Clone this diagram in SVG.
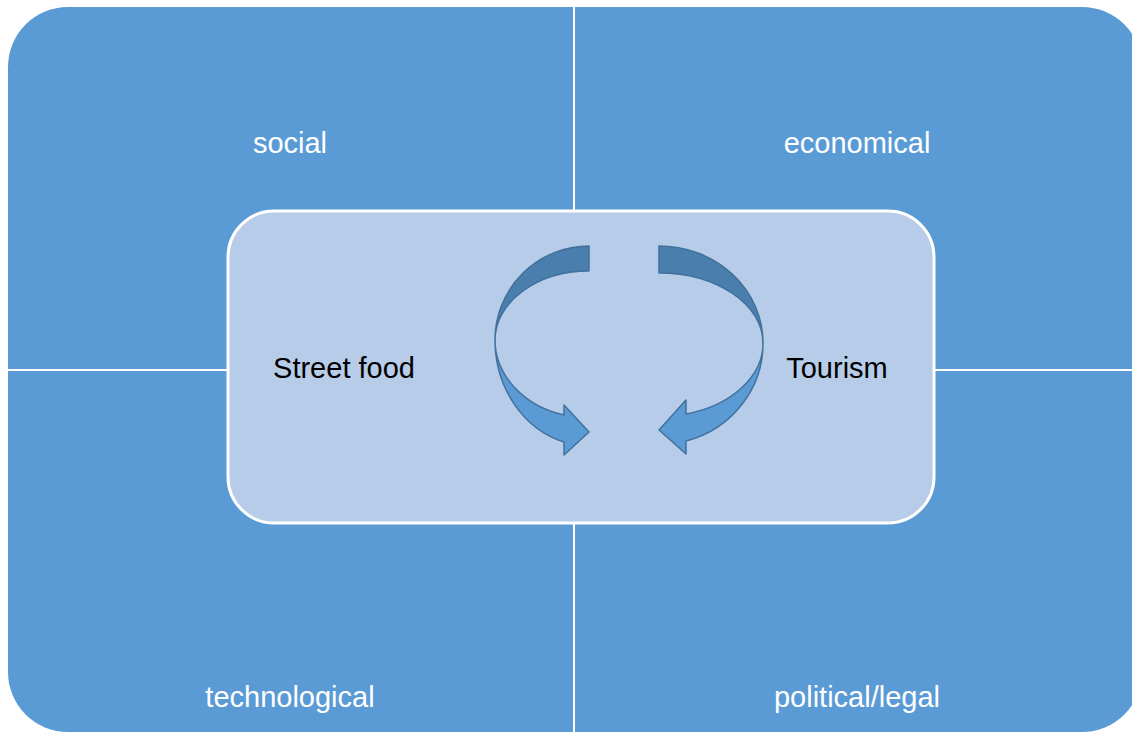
<svg xmlns="http://www.w3.org/2000/svg" width="1132" height="733" viewBox="0 0 1132 733">
  <style>
    .quad { fill: #5B9BD5; }
    .sep { stroke: #FFFFFF; stroke-width: 2; fill: none; }
    .lbl { font-family: "Liberation Sans", Arial, sans-serif; font-size: 29px; text-anchor: middle; }
    .white { fill: #FFFFFF; }
    .dark { fill: #000000; }
    .center { fill: #B7CCE8; stroke: #FFFFFF; stroke-width: 3; }
    .back { fill: #4A7EAD; stroke: #41719C; stroke-width: 1.5; stroke-linejoin: round; }
    .front { fill: #5B9BD5; stroke: #41719C; stroke-width: 1.5; stroke-linejoin: round; }
  </style>

  <!-- four quadrants forming one rounded block -->
  <g id="quadrants">
    <g id="social">
      <path class="quad" d="M8,370 L8,67 A60,60 0 0 1 68,7 L574,7 L574,370 Z"/>
      <text class="lbl white" x="290" y="153">social</text>
    </g>
    <g id="economical">
      <path class="quad" d="M574,7 L1082,7 A60,60 0 0 1 1142,67 L1142,370 L574,370 Z"/>
      <text class="lbl white" x="857" y="153">economical</text>
    </g>
    <g id="technological">
      <path class="quad" d="M8,370 L574,370 L574,732 L68,732 A60,60 0 0 1 8,672 Z"/>
      <text class="lbl white" x="290" y="707">technological</text>
    </g>
    <g id="political">
      <path class="quad" d="M574,370 L1142,370 L1142,672 A60,60 0 0 1 1082,732 L574,732 Z"/>
      <text class="lbl white" x="857" y="707">political/legal</text>
    </g>
    <line class="sep" x1="574" y1="7" x2="574" y2="732"/>
    <line class="sep" x1="8" y1="370" x2="1142" y2="370"/>
  </g>

  <!-- central panel -->
  <g id="core">
    <rect class="center" x="228" y="211" width="706" height="312" rx="46" ry="46"/>
  </g>

  <g id="street-food">
    <text class="lbl dark" x="344" y="378">Street food</text>
  </g>
  <g id="tourism">
    <text class="lbl dark" x="837" y="378">Tourism</text>
  </g>

  <!-- curved arrows cycling between the two topics -->
  <g id="connectors">
    <g id="arrow-left">
      <path class="back" d="M589,246 A94,94 0 0 0 495,340 A94,69 0 0 1 589,271 Z"/>
      <path class="front" d="M495,340 A94,106 0 0 0 564,442 L564,455 L589,432 L564,405 L564,415 A94,78 0 0 1 495,340 Z"/>
    </g>
    <g id="arrow-right">
      <path class="back" d="M659,246 A104,97 0 0 1 763,343 A104,70 0 0 0 659,273 Z"/>
      <path class="front" d="M763,343 A104,101 0 0 1 686,441 L686,454 L659,430 L686,400 L686,414 A104,73 0 0 0 763,343 Z"/>
    </g>
  </g>
</svg>
